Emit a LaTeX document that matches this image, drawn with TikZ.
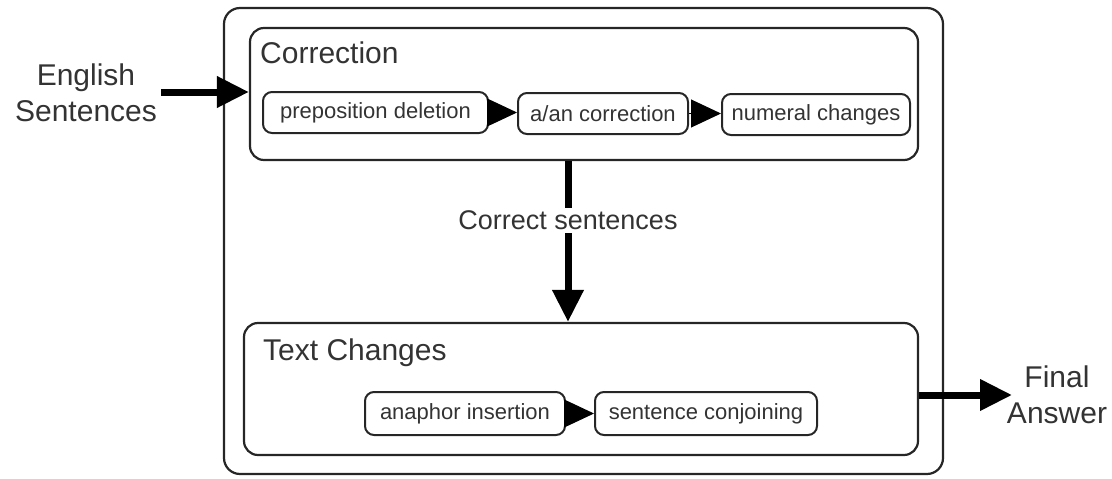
\documentclass[tikz,border=0pt]{standalone}
\usepackage{fontspec}
\setmainfont{Liberation Sans}
\usetikzlibrary{arrows.meta}
\begin{document}
\begin{tikzpicture}[x=1pt,y=-1pt,
  outerframe/.style={draw=black!85,line width=2.2pt,rounded corners=16pt},
  groupbox/.style={draw=black!85,line width=2.2pt,rounded corners=14pt,inner sep=0pt},
  stagebox/.style={draw=black!85,line width=2pt,rounded corners=9pt,inner sep=0pt,
    minimum height=41pt,font=\fontsize{22}{26}\selectfont,text=black!80},
  grouptitle/.style={anchor=base west,inner sep=0pt,font=\fontsize{30}{36}\selectfont,text=black!80},
  sidetext/.style={align=center,inner sep=0pt,font=\fontsize{30}{36}\selectfont,text=black!80},
  bigarrow/.style={line width=7pt,-{Triangle[length=32pt,width=30pt]}},
  smallarrow/.style={line width=1pt,-{Triangle[length=30pt,width=28pt]}},
]
\useasboundingbox (0,0) rectangle (1112,479);

% outer frame
\draw[outerframe] (224,8) rectangle (943,474);

% correction group
\node[groupbox,minimum width=668pt,minimum height=132pt] (corr) at (584,94) {};
\node[grouptitle] (corrtitle) at (260,63) {Correction};
\node[stagebox,minimum width=225pt] (prep) at (375.5,112.5) {preposition deletion};
\node[stagebox,minimum width=170pt] (aan) at (603,113.5) {a/an correction};
\node[stagebox,minimum width=188pt] (num) at (816,114.5) {numeral changes};
\draw[smallarrow] (prep.east) -- (aan.west |- prep.east);
\draw[smallarrow] (aan.east) -- (num.west |- aan.east);

% text changes group
\node[groupbox,minimum width=674pt,minimum height=132pt] (textch) at (581,389) {};
\node[grouptitle] (textchtitle) at (263,360) {Text Changes};
\node[stagebox,minimum width=200pt,minimum height=43pt] (anaph) at (465,413.5) {anaphor insertion};
\node[stagebox,minimum width=222pt,minimum height=43pt] (conj) at (706,413.5) {sentence conjoining};
\draw[smallarrow] (anaph.east) -- (conj.west);

% flow between groups
\draw[bigarrow] (corr.south -| 568,0) -- (textch.north -| 568,0)
  node[pos=0.37,fill=white,inner sep=3pt,font=\fontsize{27}{30}\selectfont,text=black!80] (corrlabel) {Correct sentences};

% input and output
\node[sidetext] (eng) at (86,93) {English\\Sentences};
\draw[bigarrow] ([xshift=4pt]eng.east |- 0,92) -- (corr.west |- 0,92);

\node[sidetext] (fin) at (1057,395) {Final\\Answer};
\coordinate (outend) at (1012,395);
\draw[bigarrow] (textch.east |- 0,395) -- (outend);
\end{tikzpicture}
\end{document}
